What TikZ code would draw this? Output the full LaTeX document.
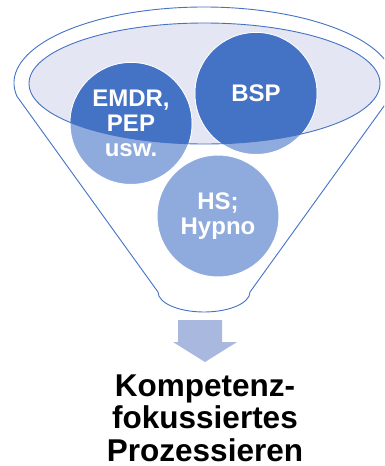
\documentclass[tikz,border=0pt]{standalone}
\usepackage{fontspec}
\setmainfont{Liberation Sans}
\definecolor{accent}{HTML}{4472C4}
\definecolor{accentlight}{HTML}{8FAADC}
\definecolor{rimfill}{HTML}{E4E7F3}
\definecolor{arrowfill}{HTML}{A9B8DE}
\tikzset{
  funnelline/.style={draw=accent, line width=0.9pt, fill=white},
  bubble/.style={circle, minimum size=122pt, inner sep=0pt, draw=white, line width=1pt, fill=accentlight},
  bubbletext/.style={text=white, align=center, inner sep=0pt,
    font=\bfseries\fontsize{24}{25}\selectfont},
  resulttext/.style={text=black, align=center, inner sep=0pt,
    font=\bfseries\fontsize{31.5}{32.5}\selectfont}
}
\begin{document}
\begin{tikzpicture}[x=1pt,y=-1pt]
\useasboundingbox (0,0) rectangle (384,466);
\clip (0,0) rectangle (384,466);

% funnel body: upper rim arc, straight sides, rounded spout
\draw[funnelline] (204,83) ++(170:190 and 76)
  arc[start angle=170, end angle=370, x radius=190, y radius=76]
  -- (250,292)
  arc[start angle=0, end angle=180, x radius=46, y radius=20]
  -- cycle;

% inner opening of the funnel
\fill[rimfill] (204.5,83.5) ellipse[x radius=175.5, y radius=60.5];

% the three method bubbles
\node[bubble] (emdr) at (131,123.5) {};
\node[bubble] (bsp)  at (256,93.5) {};
\node[bubble] (hs)   at (218,216) {};

% parts of the bubbles inside the opening are darker
\begin{scope}
  \clip (204.5,83.5) ellipse[x radius=175.5, y radius=60.5];
  \fill[accent] (emdr.center) circle[radius=60.5];
  \fill[accent] (bsp.center) circle[radius=60.5];
  \fill[accent] (hs.center) circle[radius=60.5];
\end{scope}

% rim outline on top
\draw[accent, line width=0.9pt] (204.5,83.5) ellipse[x radius=175.5, y radius=60.5];

% bubble labels
\node[bubbletext] (emdrlabel) at (emdr.center) {EMDR,\\PEP\\usw.};
\node[bubbletext] (bsplabel) at (bsp.center) {BSP};
\node[bubbletext] (hslabel) at (hs.center) {HS;\\Hypno};

% output arrow
\fill[arrowfill] (178,320) -- (222,320) -- (222,342) -- (237,342)
  -- (205,362) -- (173,342) -- (178,342) -- cycle;

% result
\node[resulttext] (result) at (205,418) {Kompetenz-\\fokussiertes\\Prozessieren};
\end{tikzpicture}
\end{document}
